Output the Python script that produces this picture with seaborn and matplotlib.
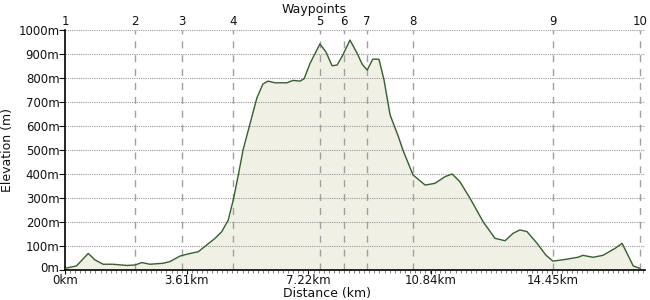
import matplotlib
matplotlib.use("Agg")
import matplotlib.pyplot as plt
import matplotlib.transforms as mtransforms
from matplotlib.ticker import MultipleLocator
import seaborn as sns
import pandas as pd

sns.set_theme(style="white")
plt.rcParams['font.family'] = ['DejaVu Sans']

distance_km = [0.0, 0.34, 0.69, 0.89, 1.13, 1.42, 1.83, 2.08, 2.28, 2.52, 2.91, 3.11, 3.41,
               3.65, 3.95, 4.2, 4.45, 4.65, 4.84, 4.99, 5.14, 5.28, 5.69, 5.87, 6.02,
               6.23, 6.58, 6.76, 6.97, 7.09, 7.27, 7.56, 7.74, 7.92, 8.07, 8.24, 8.45,
               8.66, 8.81, 8.96, 9.13, 9.31, 9.46, 9.64, 9.88, 10.02, 10.32, 10.68,
               10.97, 11.27, 11.48, 11.71, 12.01, 12.40, 12.75, 13.05, 13.29, 13.49,
               13.70, 14.0, 14.26, 14.47, 14.83, 15.21, 15.36, 15.66, 15.95, 16.31,
               16.52, 16.85, 17.05]
elevation_m = [7, 17, 69, 42, 24, 24, 19, 21, 31, 24, 28, 35, 58,
               67, 76, 104, 132, 160, 208, 292, 396, 500, 717, 775, 787,
               780, 780, 790, 787, 797, 862, 942, 908, 851, 854, 896, 958,
               904, 858, 833, 879, 878, 792, 646, 558, 500, 396, 354,
               361, 389, 400, 368, 299, 201, 132, 122, 153, 167,
               160, 111, 62, 37, 44, 53, 61, 53, 61, 90,
               111, 17, 7]
waypoint_labels = ["1", "2", "3", "4", "5", "6", "7", "8", "9", "10"]
waypoint_km = [0.0, 2.08, 3.47, 4.98, 7.56, 8.27, 8.96, 10.32, 14.47, 17.05]
x_ticks = [0, 3.61, 7.22, 10.84, 14.45]
x_tick_labels = ["0km", "3.61km", "7.22km", "10.84km", "14.45km"]
y_ticks = list(range(0, 1001, 100))
y_tick_labels = [f"{v}m" for v in y_ticks]

df = pd.DataFrame({"Distance": distance_km, "Elevation": elevation_m})

fig = plt.figure(figsize=(6.5, 3.0), dpi=100)
ax = fig.add_axes([65/650, 30/300, 580/650, 240/300])

fs = 8.5
fl = 9
ax.fill_between(df["Distance"], df["Elevation"], 0, color="#f0f0e5", zorder=1)
sns.lineplot(data=df, x="Distance", y="Elevation", ax=ax, color="#35612f",
             linewidth=1.0, zorder=3)

ax.set_xlim(0, 17.2)
ax.set_ylim(0, 1000)

# horizontal dotted grid
for v in y_ticks[1:]:
    ax.axhline(v, color="#9a9a9a", linestyle=(0, (1, 1)), linewidth=0.8, zorder=2)

# waypoint lines
for wk in waypoint_km[1:]:
    ax.axvline(wk, color="#a0a0a0", linestyle=(0, (5, 5)), linewidth=1.0, zorder=2)

trans = mtransforms.blended_transform_factory(ax.transData, ax.transAxes)
for lab, wk in zip(waypoint_labels, waypoint_km):
    ax.text(wk, 1.01, lab, transform=trans, ha="center", va="bottom", fontsize=fs,
            color="#111111")

fig.text(314/650, 1 - 9/300, "Waypoints", ha="center", va="center", fontsize=fl,
         color="#111111")

ax.set_xticks(x_ticks)
ax.set_xticklabels(x_tick_labels, fontsize=fs)
ax.xaxis.set_minor_locator(MultipleLocator(3.61/24))
ax.set_yticks(y_ticks)
ax.set_yticklabels(y_tick_labels, fontsize=fs)
ax.tick_params(axis="x", which="major", direction="inout", length=6, width=0.8,
               pad=0, colors="#111111", bottom=True)
ax.tick_params(axis="x", which="minor", direction="out", length=2, width=0.6,
               colors="#666666", bottom=True)
ax.tick_params(axis="y", which="major", direction="out", length=4, width=0.8,
               pad=0, colors="#111111", left=True)

# nudge the "0m" label up a little so it does not collide with "0km"
zero_lab = ax.get_yticklabels()[0]
zero_lab.set_transform(zero_lab.get_transform() +
                       mtransforms.ScaledTranslation(0, 3/100, fig.dpi_scale_trans))

ax.set_xlabel("")
ax.set_ylabel("Elevation (m)", fontsize=fl, labelpad=3, color="#111111")
fig.text(327/650, 1 - 293/300, "Distance (km)", ha="center", va="center",
         fontsize=fl, color="#111111")

for s in ["top", "right"]:
    ax.spines[s].set_visible(False)
for s in ["left", "bottom"]:
    ax.spines[s].set_color("black")
    ax.spines[s].set_linewidth(1.2)

fig.savefig("out.png", dpi=100)
